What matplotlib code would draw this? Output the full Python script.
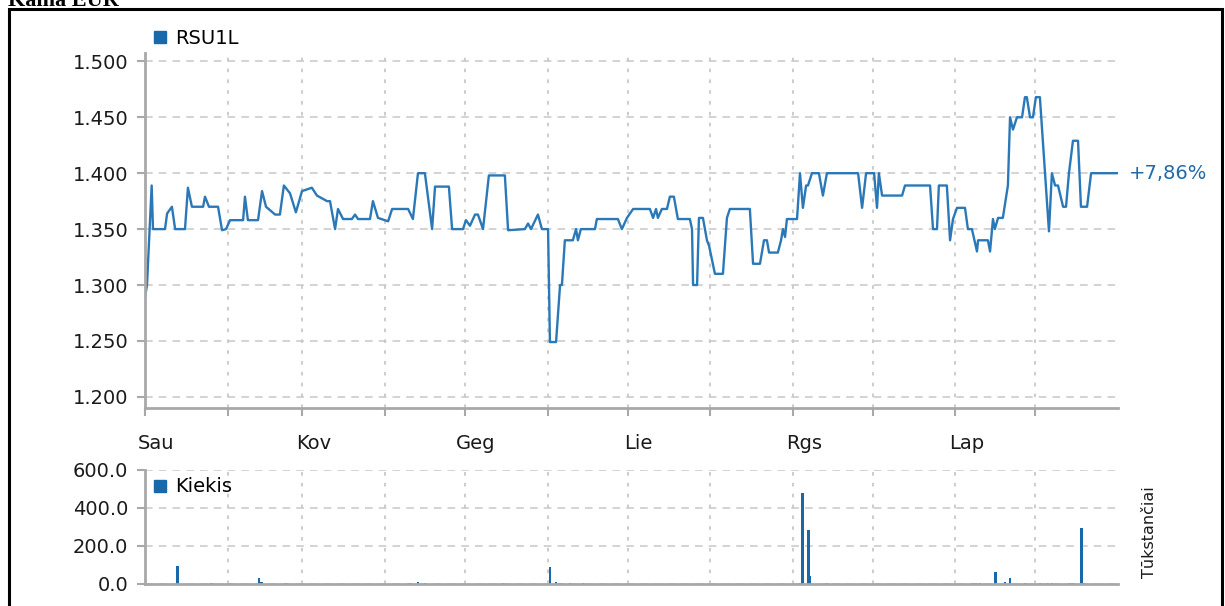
import matplotlib
matplotlib.use("Agg")
import matplotlib.pyplot as plt
from matplotlib.lines import Line2D
from matplotlib.patches import Rectangle
from matplotlib.transforms import ScaledTranslation
from matplotlib.ticker import FormatStrFormatter

# price series (day of year, EUR)
price_days = [0, 0.75, 2.5, 3.0, 7.5, 8.3, 10.1, 11.3, 15.0, 16.1, 17.6, 21.8, 22.5, 24.0,
              27.4, 28.9, 30.4, 31.9, 36.8, 37.5, 38.6, 42.4, 43.9, 45.4, 48.8, 50.6, 52.1,
              54.4, 56.6, 58.9, 62.6, 64.5, 68.3, 69.4, 71.3, 72.4, 74.3, 77.6, 78.8, 79.9,
              84.4, 85.5, 87.4, 91.2, 92.7, 98.7, 100.5, 102.4, 105.0, 107.7, 108.8, 114.0,
              115.2, 119.3, 120.4, 121.9, 123.8, 124.9, 126.8, 129.0, 135.0, 136.2, 142.5,
              143.7, 144.8, 147.4, 148.9, 151.2, 151.9, 154.2, 155.7, 156.4, 157.5, 160.5,
              161.7, 162.4, 163.5, 168.8, 169.5, 177.4, 178.9, 180.8, 183.1, 189.4, 190.6,
              191.7, 192.4, 193.9, 195.8, 196.9, 198.4, 199.9, 204.4, 205.2, 205.6, 207.1,
              207.8, 209.3, 210.8, 211.6, 213.8, 216.8, 218.3, 219.4, 226.9, 228.1, 230.7,
              232.2, 233.3, 234.1, 237.4, 238.6, 239.3, 240.1, 240.8, 244.6, 245.7, 246.8,
              248.0, 248.7, 250.2, 252.8, 254.3, 255.8, 267.5, 269.0, 270.5, 273.5, 274.6,
              275.3, 276.5, 284.0, 285.1, 294.5, 295.6, 297.1, 297.8, 300.8, 302.0, 303.1,
              304.6, 307.6, 308.7, 310.2, 312.1, 312.5, 316.2, 317.0, 318.1, 318.8, 320.0,
              321.8, 323.7, 324.5, 325.6, 327.1, 329.0, 330.1, 330.8, 332.0, 333.1, 334.2,
              335.7, 339.1, 340.2, 341.4, 342.5, 344.4, 345.5, 346.6, 348.1, 350.0, 351.1,
              353.4, 354.9, 365.0]
price_vals = [1.289, 1.30, 1.389, 1.35, 1.35, 1.364, 1.37, 1.35, 1.35, 1.387, 1.37, 1.37, 1.379, 1.37,
              1.37, 1.349, 1.35, 1.358, 1.358, 1.379, 1.358, 1.358, 1.384, 1.37, 1.363, 1.363, 1.389,
              1.382, 1.365, 1.384, 1.387, 1.38, 1.375, 1.375, 1.35, 1.368, 1.359, 1.359, 1.363, 1.359,
              1.359, 1.375, 1.36, 1.357, 1.368, 1.368, 1.359, 1.40, 1.40, 1.35, 1.388, 1.388,
              1.35, 1.35, 1.358, 1.353, 1.363, 1.363, 1.35, 1.398, 1.398, 1.349, 1.35,
              1.355, 1.35, 1.363, 1.35, 1.35, 1.249, 1.249, 1.30, 1.30, 1.34, 1.34,
              1.35, 1.34, 1.35, 1.35, 1.359, 1.359, 1.35, 1.36, 1.368, 1.368, 1.36,
              1.368, 1.36, 1.368, 1.368, 1.379, 1.379, 1.359, 1.359, 1.35, 1.30, 1.30,
              1.36, 1.36, 1.34, 1.335, 1.31, 1.31, 1.36, 1.368, 1.368, 1.319, 1.319,
              1.34, 1.34, 1.329, 1.329, 1.34, 1.35, 1.343, 1.359, 1.359, 1.40, 1.369,
              1.389, 1.389, 1.40, 1.40, 1.38, 1.40, 1.40, 1.369, 1.40, 1.40, 1.369,
              1.40, 1.38, 1.38, 1.389, 1.389, 1.35, 1.35, 1.389, 1.389, 1.34, 1.359,
              1.369, 1.369, 1.35, 1.35, 1.33, 1.34, 1.34, 1.33, 1.359, 1.35, 1.36,
              1.36, 1.389, 1.45, 1.439, 1.45, 1.45, 1.468, 1.468, 1.45, 1.45, 1.468,
              1.468, 1.348, 1.40, 1.389, 1.389, 1.37, 1.37, 1.40, 1.429, 1.429, 1.37,
              1.37, 1.40, 1.40]

# volume (thousands)
vol_days = [12.1, 25.0, 31.9, 42.8, 43.8, 52.9, 99.4, 102.4, 105.0, 134.3, 151.9, 154.2, 155.7,
            159.4, 164.3, 245.7, 246.7, 248.8, 249.5, 255.9, 310.6, 311.7, 313.2, 319.1, 322.6,
            324.5, 330.1, 335.7, 338.7, 340.2, 347.0, 348.1, 351.4, 352.3]
vol_vals = [91, 5, 5, 30, 10, 5, 5, 8, 5, 5, 88, 8, 5,
            5, 5, 5, 475, 281, 40, 5, 5, 5, 5, 61, 8,
            28, 5, 5, 5, 5, 5, 5, 293, 5]

month_starts = [0, 31, 59, 90, 120, 151, 181, 212, 243, 273, 304, 334]
month_labels = ["Sau", "", "Kov", "", "Geg", "", "Lie", "", "Rgs", "", "Lap", ""]
change_label = "+7,86%"

line_color = "#2a78b7"
bar_color = "#1868aa"
grid_color = "#c8c8c8"
spine_color = "#a8a8a8"
text_color = "#1a1a1a"

plt.rcParams['font.family'] = ['DejaVu Sans']

fig = plt.figure(figsize=(12.25, 6.06), dpi=100)
W, H = 1225.0, 606.0

ax = fig.add_axes([145 / W, 1 - 408 / H, 973 / W, 355 / H])
axv = fig.add_axes([145 / W, 1 - 583.5 / H, 973 / W, 113.8 / H])


def style_axes(a):
    for s in ['top', 'right']:
        a.spines[s].set_visible(False)
    for s in ['left', 'bottom']:
        a.spines[s].set_color(spine_color)
        a.spines[s].set_linewidth(2)
    a.set_xlim(0, 365)
    a.set_xticks(month_starts)
    a.grid(axis='y', color=grid_color, linestyle=(0, (5, 4)), linewidth=1.1)
    a.grid(axis='x', color=grid_color, linestyle=(0, (2, 4)), linewidth=1.3)
    a.set_axisbelow(True)
    a.tick_params(axis='y', colors=spine_color, labelcolor=text_color, length=6, width=1.5,
                  pad=6, labelsize=14)


# price panel
style_axes(ax)
ax.plot(price_days, price_vals, color=line_color, linewidth=1.7)
ax.set_ylim(1.19, 1.5075)
ax.set_yticks([1.20, 1.25, 1.30, 1.35, 1.40, 1.45, 1.50])
ax.yaxis.set_major_formatter(FormatStrFormatter('%.3f'))
ax.set_xticklabels(month_labels)
ax.tick_params(axis='x', colors=spine_color, labelcolor=text_color, length=6, width=1.5,
               pad=13, labelsize=14)
for lbl in ax.get_xticklabels():
    lbl.set_transform(lbl.get_transform() + ScaledTranslation(0.11, 0, fig.dpi_scale_trans))

ax.annotate(change_label, xy=(1.0, price_vals[-1]), xycoords=ax.get_yaxis_transform(),
            xytext=(8, 0), textcoords='offset points', color="#1f6aa8", fontsize=14,
            va='center', ha='left')

ax.legend(handles=[Line2D([], [], marker='s', ls='none', color=bar_color, markersize=8)],
          labels=["RSU1L"], loc='center left', bbox_to_anchor=(150 / W, 1 - 38 / H),
          bbox_transform=fig.transFigure, frameon=False, fontsize=14, handletextpad=0.3,
          borderaxespad=0, borderpad=0, handlelength=1)

# volume panel
style_axes(axv)
axv.bar(vol_days, vol_vals, width=1.0, color=bar_color)
axv.set_ylim(0, 600)
axv.set_yticks([0, 200, 400, 600])
axv.yaxis.set_major_formatter(FormatStrFormatter('%.1f'))
axv.tick_params(axis='x', length=0, labelbottom=False)
axv.legend(handles=[Line2D([], [], marker='s', ls='none', color=bar_color, markersize=8)],
           labels=["Kiekis"], loc='center left', bbox_to_anchor=(150 / W, 1 - 487 / H),
           bbox_transform=fig.transFigure, frameon=False, fontsize=14, handletextpad=0.3,
           borderaxespad=0, borderpad=0, handlelength=1)
fig.text(1150 / W, 1 - 532 / H, "Tūkstančiai", rotation=90, ha='center', va='center',
         fontsize=11.5, color=text_color)

# outer frame and caption, cut off at the top as in the original
fig.patches.append(Rectangle((9 / W, -0.05), 1213 / W, 1.05 - 9.5 / H, transform=fig.transFigure,
                             fill=False, edgecolor='black', linewidth=2.2))
fig.text(8 / W, 1 - 6 / H, "Kaina EUR", family=['Liberation Serif', 'DejaVu Serif'],
         fontsize=16, fontweight='bold', ha='left', va='baseline', color='black')

fig.savefig("out.png", dpi=100)
